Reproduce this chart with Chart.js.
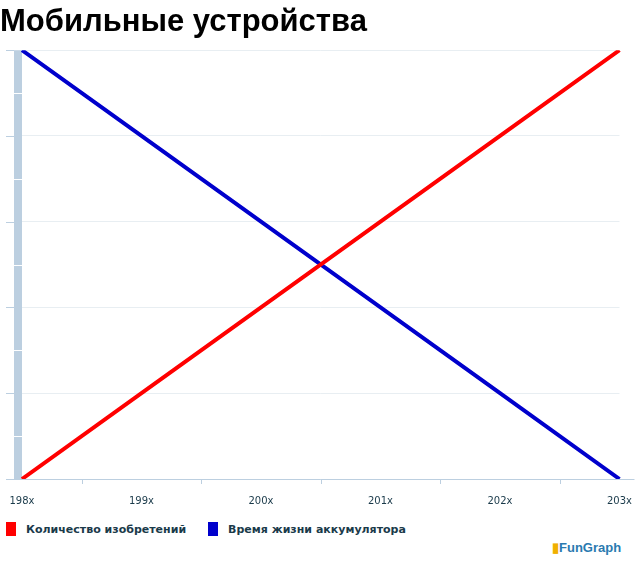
<!DOCTYPE html>
<html><head><meta charset="utf-8">
<script src="https://cdn.jsdelivr.net/npm/chart.js@4/dist/chart.umd.min.js"></script>
<style>
body{margin:0;background:#fff;font-family:"DejaVu Sans",sans-serif;}
#wrap{position:relative;width:640px;height:515px;}
#legend{position:absolute;top:522px;left:6px;font-size:11px;font-weight:bold;color:#1a3a4a;}
#legend span.sw{display:inline-block;width:10px;height:14px;vertical-align:-3px;margin-right:10px;}
#legend span.it{margin-right:22px;}
#logo{position:absolute;top:540px;left:552px;font:bold 13px "Liberation Sans",sans-serif;color:#2a7ab0;}
</style></head><body>
<div id="wrap"><canvas id="c"></canvas></div>
<div id="legend"><span class="it"><span class="sw" style="background:#ff0000"></span>Количество изобретений</span><span class="it"><span class="sw" style="background:#0000cc"></span>Время жизни аккумулятора</span></div>
<div id="logo"><span style="color:#f0b000">▮</span>FunGraph</div>
<script>
let categories = ['198x', '199x', '200x', '201x', '202x', '203x'];
let inventions = [0, 1, 2, 3, 4, 5];
let batteryLife = [5, 4, 3, 2, 1, 0];

let decor = {
    id: 'decor',
    beforeDatasetsDraw(chart) {
        let c = chart.ctx, a = chart.chartArea, y = chart.scales.y, x = chart.scales.x;
        c.save();
        c.fillStyle = '#bccfe0';
        c.fillRect(a.left - 8, a.top, 8, a.bottom - a.top);
        c.strokeStyle = '#bccfe0';
        c.lineWidth = 1;
        for (let v = 0; v <= 5; v++) {
            let py = Math.round(y.getPixelForValue(v)) + 0.5;
            c.beginPath(); c.moveTo(a.left - 16, py); c.lineTo(a.left - 8, py); c.stroke();
        }
        c.strokeStyle = '#ffffff';
        for (let v = 0.5; v < 5; v += 1) {
            let py = Math.round(y.getPixelForValue(v)) + 0.5;
            c.beginPath(); c.moveTo(a.left - 8, py); c.lineTo(a.left, py); c.stroke();
        }
        c.strokeStyle = '#bccfe0';
        c.beginPath(); c.moveTo(a.left - 16, a.bottom + 0.5); c.lineTo(a.right + 15, a.bottom + 0.5); c.stroke();
        for (let i = 0; i < categories.length - 1; i++) {
            let px = Math.round((x.getPixelForValue(i) + x.getPixelForValue(i + 1)) / 2) + 0.5;
            c.beginPath(); c.moveTo(px, a.bottom); c.lineTo(px, a.bottom + 5); c.stroke();
        }
        c.restore();
    }
};

new Chart(document.getElementById('c'), {
    type: 'line',
    data: {
        labels: categories,
        datasets: [
            {label: 'Количество изобретений', data: inventions, borderColor: '#ff0000', borderWidth: 4, pointRadius: 0, tension: 0},
            {label: 'Время жизни аккумулятора', data: batteryLife, borderColor: '#0000cc', borderWidth: 4, pointRadius: 0, tension: 0}
        ]
    },
    plugins: [decor],
    options: {
        responsive: true,
        maintainAspectRatio: false,
        animation: false,
        layout: {padding: {left: 0, right: 15, top: 0, bottom: 0}},
        plugins: {
            legend: {display: false},
            tooltip: {enabled: false},
            title: {display: true, text: 'Мобильные устройства', align: 'start',
                color: '#000', font: {family: 'Liberation Sans', size: 31}, padding: {top: 4, bottom: 9}}
        },
        scales: {
            x: {
                offset: false,
                grid: {display: false},
                border: {display: false},
                ticks: {color: '#1a3a4a', font: {family: 'DejaVu Sans', size: 10}, padding: 8, maxRotation: 0}
            },
            y: {
                min: 0, max: 5,
                afterFit(s) { s.width = 22; },
                grid: {color: '#e8eef2', drawTicks: false},
                border: {display: false},
                ticks: {display: false, stepSize: 1}
            }
        }
    }
});
</script></body></html>
